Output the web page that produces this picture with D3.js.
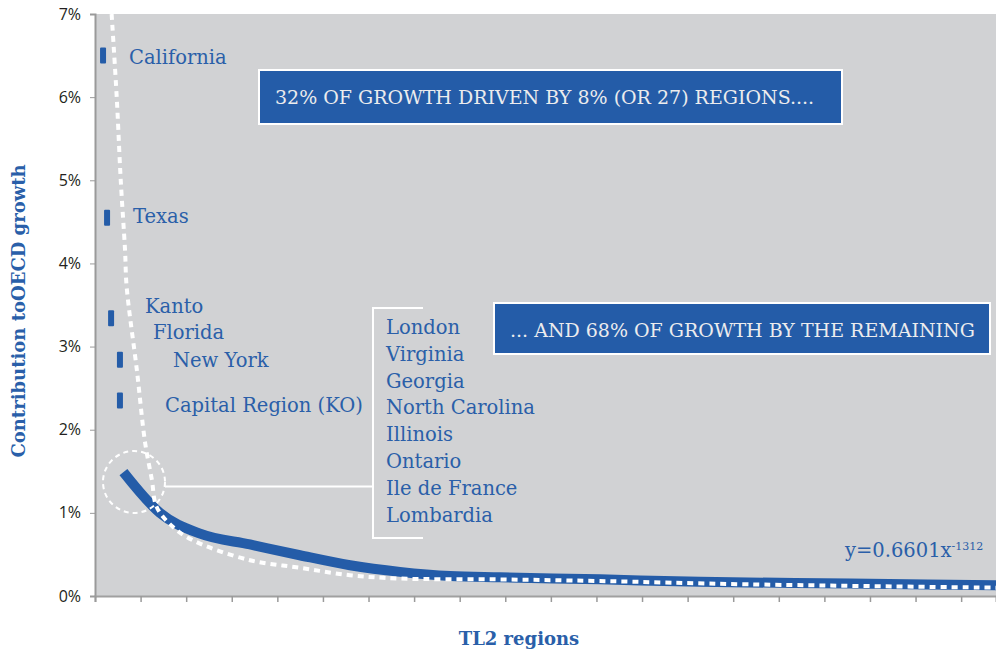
<!DOCTYPE html>
<html>
<head>
<meta charset="utf-8">
<script src="https://cdn.jsdelivr.net/npm/d3@7"></script>
<style>
  body { margin: 0; background: #fff; }
  .label { font-family: "DejaVu Serif", serif; fill: #2a5fa9; font-size: 19.5px; }
  .axisTitle { font-family: "DejaVu Serif", serif; fill: #2a5fa9; font-size: 18px; font-weight: bold; }
  .boxText { font-family: "DejaVu Serif", serif; fill: #ececee; font-size: 19px; }
</style>
</head>
<body>
<script>
//top regions, rank on x and contribution (%) on y
var topNames = ["California", "Texas", "Kanto", "Florida", "New York", "Capital Region (KO)"];
var topRank = [3, 4.5, 6, 9.3, 9.3];
var topValue = [6.5, 4.55, 3.34, 2.84, 2.35];

//names listed in the bracket
var listNames = ["London", "Virginia", "Georgia", "North Carolina", "Illinois", "Ontario", "Ile de France", "Lombardia"];

//remaining regions, smoothed contribution curve
var curveRank = [10.6, 24.2, 39.2, 57.8, 76.4, 95.1, 113.7, 132.4, 151, 188.3, 225.6, 281.6, 336];
var curveValue = [1.49, 1.0, 0.75, 0.62, 0.49, 0.37, 0.29, 0.24, 0.225, 0.20, 0.17, 0.15, 0.13];

//power-law fit (dotted)
var fitRank = [6.2, 8.1, 9.6, 11.2, 11.8, 15.6, 18.7, 21.2, 23, 29.1, 36.5, 57.8, 76.4, 95.1, 113.7, 150, 188.3, 244, 336];
var fitValue = [7.0, 6.0, 5.0, 4.16, 3.72, 2.72, 1.84, 1.40, 1.07, 0.83, 0.67, 0.43, 0.34, 0.25, 0.21, 0.20, 0.18, 0.14, 0.10];

var yTicks = [0, 1, 2, 3, 4, 5, 6, 7];
var xTicks = d3.range(0, 336, 17);

var width = 996,
    height = 654;
var margin = {top: 14, right: 0, bottom: 58, left: 95};

var blue = "#245ca8";

var svg = d3.select("body")
    .append("svg")
    .attr("width", width)
    .attr("height", height);

var x = d3.scaleLinear()
    .domain([0, 336])
    .range([margin.left, width - margin.right]);

var y = d3.scaleLinear()
    .domain([0, 7])
    .range([height - margin.bottom, margin.top]);

//plot background
svg.append("rect")
    .attr("x", x(0))
    .attr("y", y(7))
    .attr("width", x(336) - x(0))
    .attr("height", y(0) - y(7))
    .attr("fill", "#d1d2d4");

svg.append("clipPath")
    .attr("id", "plotClip")
    .append("rect")
    .attr("x", x(0))
    .attr("y", y(7))
    .attr("width", x(336) - x(0))
    .attr("height", y(0) - y(7));

//axes
var yAxis = svg.append("g")
    .attr("transform", "translate(" + x(0) + ",0)")
    .call(d3.axisLeft(y).tickValues(yTicks).tickSize(5).tickPadding(9)
        .tickFormat(function(d){ return d + "%"; }));
yAxis.select(".domain").attr("stroke", "#9a9a9a").attr("stroke-width", 2);
yAxis.selectAll(".tick line").attr("stroke", "#9a9a9a");
yAxis.selectAll(".tick text")
    .attr("font-family", "'Open Sans', sans-serif")
    .attr("font-size", 16)
    .attr("fill", "#231f20");

var xAxis = svg.append("g")
    .attr("transform", "translate(0," + y(0) + ")")
    .call(d3.axisBottom(x).tickValues(xTicks).tickSize(6).tickFormat(""));
xAxis.select(".domain").attr("stroke", "#a0a0a0").attr("stroke-width", 2);
xAxis.selectAll(".tick line").attr("stroke", "#9a9a9a").attr("stroke-width", 1.5);

//axis titles
svg.append("text")
    .attr("class", "axisTitle")
    .attr("transform", "translate(25," + ((y(0) + y(7)) / 2 + 6) + ") rotate(-90)")
    .attr("text-anchor", "middle")
    .text("Contribution toOECD growth");

svg.append("text")
    .attr("class", "axisTitle")
    .attr("x", 519)
    .attr("y", 645)
    .attr("text-anchor", "middle")
    .text("TL2 regions");

//smoothed curve of the remaining regions
var line = d3.line()
    .x(function(d){ return x(d[0]); })
    .y(function(d){ return y(d[1]); })
    .curve(d3.curveMonotoneX);

svg.append("path")
    .datum(d3.zip(curveRank, curveValue))
    .attr("d", line)
    .attr("fill", "none")
    .attr("stroke", blue)
    .attr("stroke-width", 10);

//power-law fit
var fitLine = d3.line()
    .x(function(d){ return x(d[0]); })
    .y(function(d){ return y(d[1]); })
    .curve(d3.curveCatmullRom);

svg.append("path")
    .datum(d3.zip(fitRank, fitValue))
    .attr("clip-path", "url(#plotClip)")
    .attr("d", fitLine)
    .attr("fill", "none")
    .attr("stroke", "#ffffff")
    .attr("stroke-width", 4)
    .attr("stroke-dasharray", "6,5");

//top region marks
svg.selectAll(".topMark")
    .data(d3.zip(topRank, topValue))
    .enter()
    .append("rect")
    .attr("class", "topMark")
    .attr("x", function(d){ return x(d[0]) - 3; })
    .attr("y", function(d){ return y(d[1]) - 8; })
    .attr("width", 6)
    .attr("height", 16)
    .attr("rx", 1)
    .attr("fill", blue);

//top region labels
var topLabelPos = [[129, 64], [133, 223], [145, 313], [153, 339], [173, 367], [165, 412]];
svg.selectAll(".topLabel")
    .data(topNames)
    .enter()
    .append("text")
    .attr("class", "label")
    .attr("x", function(d, i){ return topLabelPos[i][0]; })
    .attr("y", function(d, i){ return topLabelPos[i][1]; })
    .text(function(d){ return d; });

//dashed circle around the start of the curve
svg.append("circle")
    .attr("cx", 134)
    .attr("cy", 482)
    .attr("r", 31)
    .attr("fill", "none")
    .attr("stroke", "#ffffff")
    .attr("stroke-width", 2)
    .attr("stroke-dasharray", "5,4");

//connector and bracket
svg.append("path")
    .attr("d", "M165,486.5H373M423,308H373V538H423")
    .attr("fill", "none")
    .attr("stroke", "#ffffff")
    .attr("stroke-width", 2);

svg.selectAll(".listLabel")
    .data(listNames)
    .enter()
    .append("text")
    .attr("class", "label")
    .attr("x", 386)
    .attr("y", function(d, i){ return 334 + i * 26.8; })
    .text(function(d){ return d; });

//annotation boxes
function addBox(x0, y0, w, h, tx, ty, txt){
    svg.append("rect")
        .attr("x", x0)
        .attr("y", y0)
        .attr("width", w)
        .attr("height", h)
        .attr("fill", blue)
        .attr("stroke", "#ffffff")
        .attr("stroke-width", 2);
    svg.append("text")
        .attr("class", "boxText")
        .attr("x", tx)
        .attr("y", ty)
        .text(txt);
}
addBox(259, 70, 583, 54, 275, 104, "32% OF GROWTH DRIVEN BY 8% (OR 27) REGIONS....");
addBox(494, 303, 496, 51, 510, 337, "... AND 68% OF GROWTH BY THE REMAINING");

//equation of the fit
var eq = svg.append("text")
    .attr("class", "label")
    .attr("x", 845)
    .attr("y", 557)
    .attr("font-size", 18);
eq.append("tspan").text("y=0.6601x");
eq.append("tspan")
    .attr("dy", -7)
    .attr("font-size", 11)
    .text("-1312");
</script>
</body>
</html>
